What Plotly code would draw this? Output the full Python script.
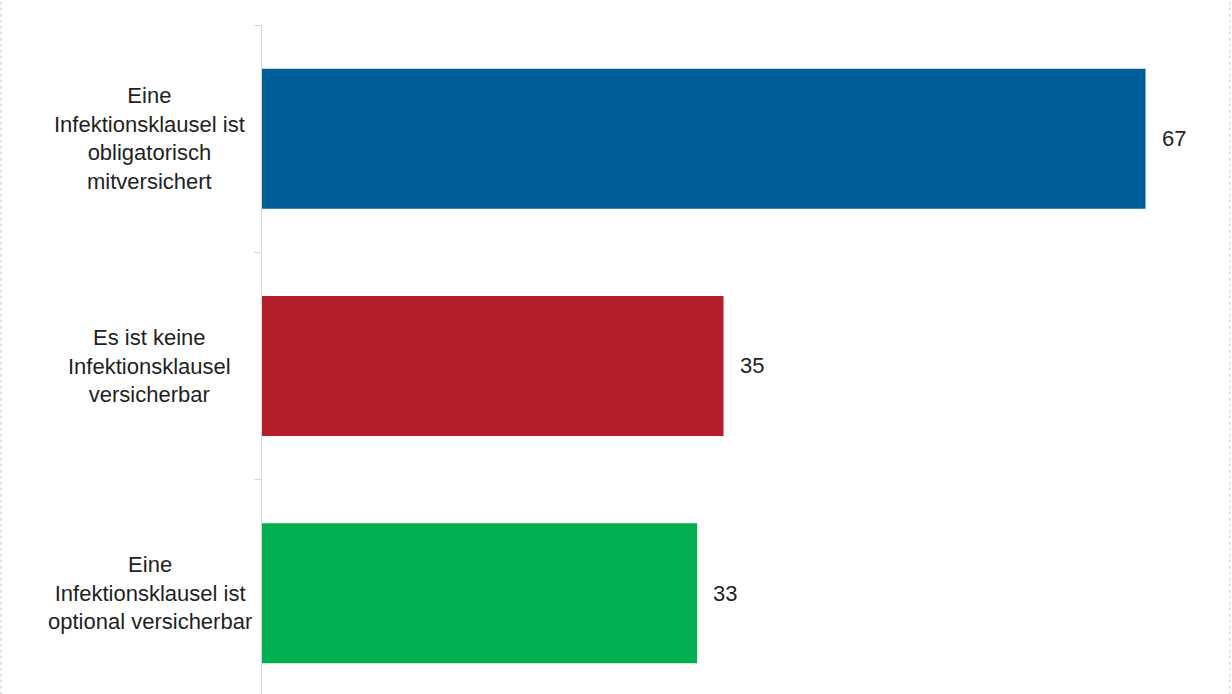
import plotly.graph_objects as go

categories = [
    "Eine<br>Infektionsklausel ist<br>obligatorisch<br>mitversichert",
    "Es ist keine<br>Infektionsklausel<br>versicherbar",
    "Eine<br>Infektionsklausel ist<br>optional versicherbar",
]
values = [67, 35, 33]
colors = ["#005F98", "#B31E2A", "#00B050"]

FONT = "Liberation Sans, Arial, sans-serif"
TXT = "#1f1f1f"

fig = go.Figure()
fig.add_trace(go.Bar(
    y=categories, x=values, orientation="h",
    marker=dict(color=colors, line=dict(width=0)),
    hoverinfo="skip", showlegend=False,
))

for c, v in zip(categories, values):
    fig.add_annotation(x=v, y=c, xref="x", yref="y", text=str(v),
                       showarrow=False, xanchor="left", xshift=14,
                       font=dict(family=FONT, size=22, color=TXT))
    fig.add_annotation(x=-0.1167, y=c, xref="paper", yref="y", text=c,
                       showarrow=False, xanchor="center", align="center",
                       font=dict(family=FONT, size=22, color=TXT))

for xp in (-0.2719, 1.0083):
    fig.add_shape(type="line", xref="paper", yref="paper",
                  x0=xp, x1=xp, y0=-0.01, y1=1.05,
                  line=dict(color="#c8c8c8", width=1, dash="dot"))

fig.update_layout(
    width=1232, height=694,
    margin=dict(l=262, r=10, t=25, b=0),
    paper_bgcolor="white", plot_bgcolor="white",
    bargap=0.384,
    xaxis=dict(range=[0, 72.8], visible=False, showgrid=False, zeroline=False),
    yaxis=dict(categoryorder="array", categoryarray=categories,
               range=[2.443, -0.5], showticklabels=False,
               showline=True, linecolor="#d9d9d9", linewidth=1,
               ticks="outside", ticklen=7, tickcolor="#d9d9d9",
               tickson="boundaries", showgrid=False, zeroline=False),
)

fig.write_html("out.html", config={"displayModeBar": False},
               post_script="document.body.style.margin='0';document.body.style.overflow='hidden';")
